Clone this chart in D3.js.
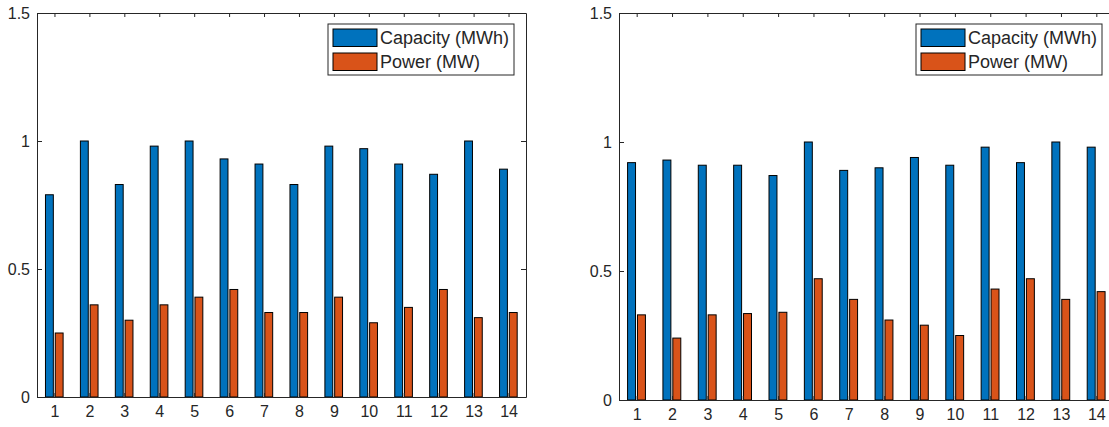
<!DOCTYPE html>
<html>
<head>
<meta charset="utf-8">
<script src="https://cdn.jsdelivr.net/npm/d3@7"></script>
<style>
  body { margin: 0; background: #fff; }
  svg { display: block; font-family: "Liberation Sans", Arial, sans-serif; }
  .axis text { fill: #262626; font-size: 16px; }
  .axis path, .axis line { stroke: #262626; }
</style>
</head>
<body>
<div id="app"></div>
<script>
// data
const categories = [1, 2, 3, 4, 5, 6, 7, 8, 9, 10, 11, 12, 13, 14];
const capacityLeft = [0.79, 1.0, 0.83, 0.98, 1.0, 0.93, 0.91, 0.83, 0.98, 0.97, 0.91, 0.87, 1.0, 0.89];
const powerLeft = [0.25, 0.36, 0.30, 0.36, 0.39, 0.42, 0.33, 0.33, 0.39, 0.29, 0.35, 0.42, 0.31, 0.33];
const capacityRight = [0.92, 0.93, 0.91, 0.91, 0.87, 1.0, 0.89, 0.90, 0.94, 0.91, 0.98, 0.92, 1.0, 0.98];
const powerRight = [0.33, 0.24, 0.33, 0.335, 0.34, 0.47, 0.39, 0.31, 0.29, 0.25, 0.43, 0.47, 0.39, 0.42];
const yTicks = [0, 0.5, 1, 1.5];
const seriesNames = ["Capacity (MWh)", "Power (MW)"];
const colors = ["#0072BD", "#D95319"];

const width = 1109, height = 427;

const svg = d3.select("#app").append("svg")
    .attr("width", width)
    .attr("height", height);

const drawPanel = (box, capacity, power) => {
    const x = d3.scaleLinear().domain([0.5, 14.5]).range([box.left, box.right]);
    const y = d3.scaleLinear().domain([0, 1.5]).range([box.bottom, box.top]);
    const g = svg.append("g");

    const barW = 0.225;
    const offsets = [-0.145, 0.135];
    [capacity, power].forEach((vals, s) => {
        g.append("g").selectAll("rect")
            .data(vals)
            .join("rect")
            .attr("x", (d, i) => x(categories[i] + offsets[s] - barW / 2))
            .attr("y", d => y(d))
            .attr("width", x(barW) - x(0))
            .attr("height", d => y(0) - y(d))
            .attr("fill", colors[s])
            .attr("stroke", "#000")
            .attr("stroke-width", 1);
    });

    // box axes, ticks pointing inward
    g.append("g").attr("class", "axis")
        .attr("transform", `translate(0,${box.bottom})`)
        .call(d3.axisBottom(x).tickValues(categories).tickSizeInner(-4).tickSizeOuter(0).tickPadding(9))
        .call(a => a.selectAll("line").attr("stroke", "#000"));
    g.append("g").attr("class", "axis")
        .attr("transform", `translate(0,${box.top})`)
        .call(d3.axisTop(x).tickValues(categories).tickSizeInner(-4).tickSizeOuter(0).tickFormat(""));
    g.append("g").attr("class", "axis")
        .attr("transform", `translate(${box.left},0)`)
        .call(d3.axisLeft(y).tickValues(yTicks).tickSizeInner(-5).tickSizeOuter(0).tickPadding(7).tickFormat(d3.format("")));
    g.append("g").attr("class", "axis")
        .attr("transform", `translate(${box.right},0)`)
        .call(d3.axisRight(y).tickValues(yTicks).tickSizeInner(-5).tickSizeOuter(0).tickFormat(""));

    // legend
    const lg = g.append("g").attr("transform", `translate(${box.right - 198},24)`);
    lg.append("rect")
        .attr("width", 186).attr("height", 51)
        .attr("fill", "#fff").attr("stroke", "#262626").attr("stroke-width", 1);
    seriesNames.forEach((name, i) => {
        lg.append("rect")
            .attr("x", 5).attr("y", 5 + i * 24)
            .attr("width", 44).attr("height", 17.5)
            .attr("fill", colors[i]).attr("stroke", "#000");
        lg.append("text")
            .attr("x", 52).attr("y", 14 + i * 24)
            .attr("dy", "0.35em")
            .attr("font-size", "18px")
            .attr("fill", "#262626")
            .text(name);
    });
};

drawPanel({ left: 37, right: 526, top: 13, bottom: 397 }, capacityLeft, powerLeft);
drawPanel({ left: 619, right: 1114, top: 13, bottom: 400 }, capacityRight, powerRight);
</script>
</body>
</html>
